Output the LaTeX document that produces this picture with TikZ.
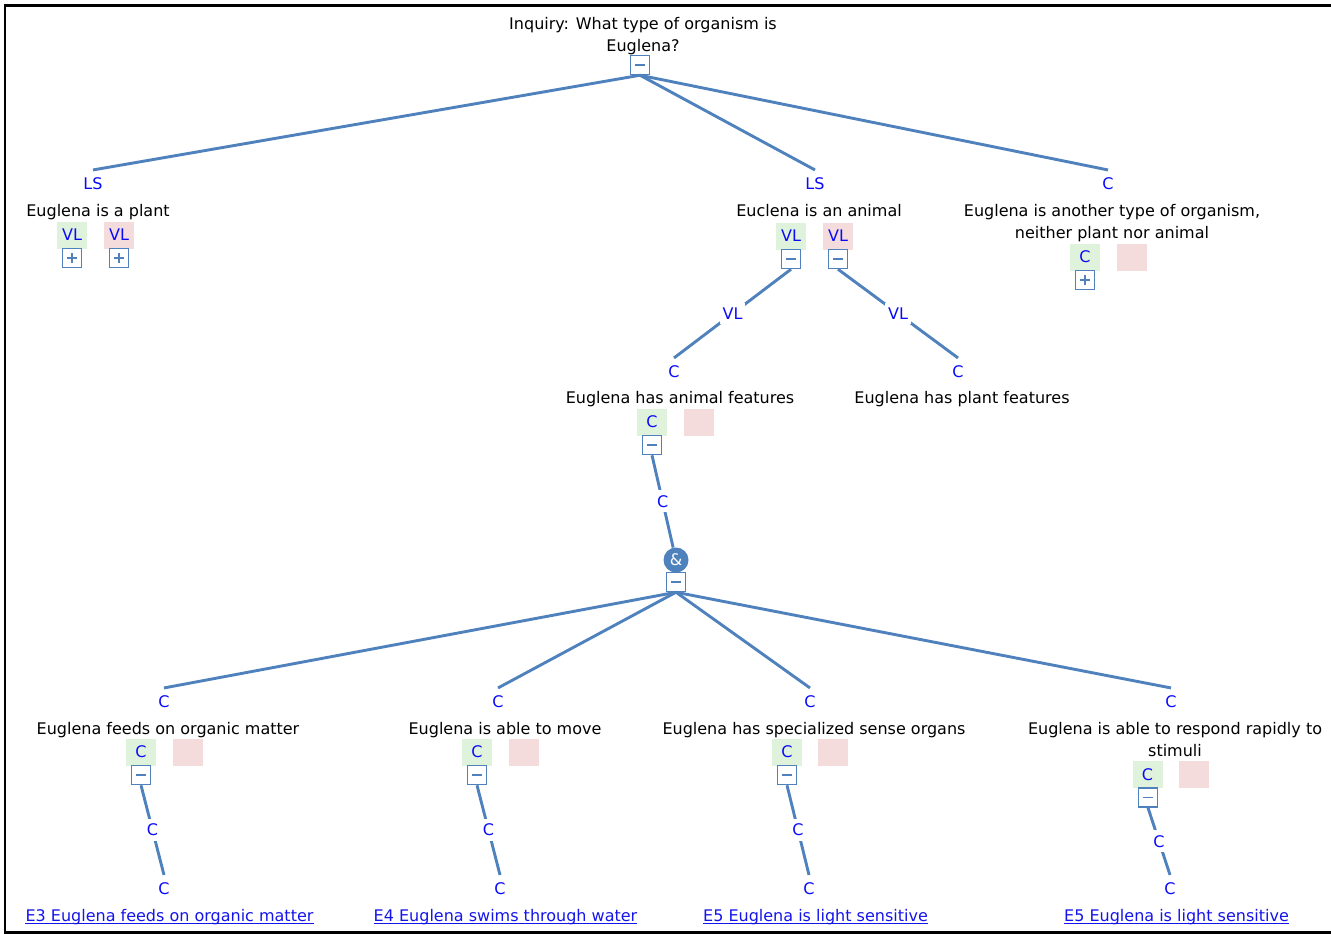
\documentclass[tikz,border=0pt]{standalone}
\usepackage{fontspec}
\setmainfont{DejaVu Sans}
\usetikzlibrary{calc}
\definecolor{edgeblue}{RGB}{79,129,189}
\definecolor{lblblue}{RGB}{10,10,250}
\definecolor{vlgreen}{RGB}{223,243,220}
\definecolor{vlpink}{RGB}{245,220,220}
\definecolor{linkblue}{RGB}{20,20,235}
\begin{document}
\begin{tikzpicture}[x=1pt,y=-1pt,
 every node/.style={font=\fontsize{16}{22}\selectfont},
 txt/.style={anchor=base, inner sep=0, align=center, text=black},
 lbl/.style={text=lblblue, inner sep=2, fill=white, outer ysep=6},
 midlbl/.style={text=lblblue, fill=white, inner xsep=3, inner ysep=5},
 edge/.style={draw=edgeblue, line width=2.9},
 greenbox/.style={fill=vlgreen, minimum width=30, minimum height=27, inner sep=0, text=lblblue},
 pinkbox/.style={fill=vlpink, minimum width=30, minimum height=27, inner sep=0, text=lblblue},
 ctl/.style={draw=edgeblue, fill=white, line width=1.5, minimum size=19, inner sep=0},
 ctlminus/.style={ctl, path picture={\draw[edgeblue, line width=1.4] ($(path picture bounding box.center)+(-5,0)$) -- ($(path picture bounding box.center)+(5,0)$);}},
 ctlplus/.style={ctl, path picture={\draw[edgeblue, line width=1.4] ($(path picture bounding box.center)+(-5,0)$) -- ($(path picture bounding box.center)+(5,0)$) ($(path picture bounding box.center)+(0,-5)$) -- ($(path picture bounding box.center)+(0,5)$);}},
 andnode/.style={circle, fill=edgeblue, text=white, minimum size=25, inner sep=0},
 linktxt/.style={anchor=base, inner sep=0, text=linkblue},
 uline/.style={draw=linkblue, line width=1.2},
]
\useasboundingbox (0,0) rectangle (1331,934);
\draw[black, line width=2.4] (4.7,5.5) rectangle (1334,932.3);

% top
\node[txt, anchor=north] (q) at (643,17) {Inquiry: What type of organism is\\Euglena?};
\node[ctlminus] (m0) at (640,65) {};

% level 1
\node[lbl] (ls1) at (93,184) {LS};
\node[txt] (t1) at (98,216) {Euglena is a plant};
\node[greenbox] (g1) at (72,235) {VL};
\node[pinkbox] (p1) at (119,235) {VL};
\node[ctlplus] (b1a) at (72,258) {};
\node[ctlplus] (b1b) at (119,258) {};

\node[lbl] (ls2) at (815,184) {LS};
\node[txt] (t2) at (819,216) {Euclena is an animal};
\node[greenbox] (g2) at (791,236) {VL};
\node[pinkbox] (p2) at (838,236) {VL};
\node[ctlminus] (b2a) at (791,259) {};
\node[ctlminus] (b2b) at (838,259) {};

\node[lbl] (c3) at (1108,184) {C};
\node[txt, anchor=north] (t3) at (1112,204) {Euglena is another type of organism,\\neither plant nor animal};
\node[greenbox] (g3) at (1085,257) {C};
\node[pinkbox] (p3) at (1132,257) {};
\node[ctlplus] (b3) at (1085,280) {};

% level 2
\node[lbl] (c4) at (674,372) {C};
\node[txt] (t4) at (680,403) {Euglena has animal features};
\node[greenbox] (g4) at (652,422) {C};
\node[pinkbox] (p4) at (699,422) {};
\node[ctlminus] (b4) at (652,445) {};

\node[lbl] (c5) at (958,372) {C};
\node[txt] (t5) at (962,403) {Euglena has plant features};

\node[andnode] (and) at (676,560) {\&};
\node[ctlminus] (b6) at (676,582) {};

% children
\node[lbl] (k1c) at (164,702) {C};
\node[txt] (k1t) at (168,734) {Euglena feeds on organic matter};
\node[greenbox] (k1g) at (141,752) {C};
\node[pinkbox] (k1p) at (188,752) {};
\node[ctlminus] (k1m) at (141,775) {};
\node[lbl] (k1b) at (164,889) {C};
\node[linktxt] (k1l) at (169.5,921) {E3 Euglena feeds on organic matter};

\node[lbl] (k2c) at (498,702) {C};
\node[txt] (k2t) at (505,734) {Euglena is able to move};
\node[greenbox] (k2g) at (477,752) {C};
\node[pinkbox] (k2p) at (524,752) {};
\node[ctlminus] (k2m) at (477,775) {};
\node[lbl] (k2b) at (500,889) {C};
\node[linktxt] (k2l) at (505.5,921) {E4 Euglena swims through water};

\node[lbl] (k3c) at (810,702) {C};
\node[txt] (k3t) at (814,734) {Euglena has specialized sense organs};
\node[greenbox] (k3g) at (787,752) {C};
\node[pinkbox] (k3p) at (833,752) {};
\node[ctlminus] (k3m) at (787,775) {};
\node[lbl] (k3b) at (809,889) {C};
\node[linktxt] (k3l) at (815.5,921) {E5 Euglena is light sensitive};

\node[lbl] (k4c) at (1171,702) {C};
\node[txt, anchor=north] (k4t) at (1175,722) {Euglena is able to respond rapidly to\\stimuli};
\node[greenbox] (k4g) at (1147.5,774.5) {C};
\node[pinkbox] (k4p) at (1194,774.5) {};
\node[ctlminus] (k4m) at (1148,797.5) {};
\node[lbl] (k4b) at (1170,889) {C};
\node[linktxt] (k4l) at (1176.5,921) {E5 Euglena is light sensitive};

% underlines
\foreach \l in {k1l,k2l,k3l,k4l}
  \draw[uline] ($(\l.base west)+(0,2.5)$) -- ($(\l.base east)+(0,2.5)$);

% edges
\draw[edge] (m0.south) -- (ls1.north);
\draw[edge] (m0.south) -- (ls2.north);
\draw[edge] (m0.south) -- (c3.north);
\draw[edge] (b2a.south) -- node[midlbl]{VL} (c4.north);
\draw[edge] (b2b.south) -- node[midlbl]{VL} (c5.north);
\draw[edge] (b4.south) -- node[midlbl]{C} (and);
\draw[edge] (b6.south) -- (k1c.north);
\draw[edge] (b6.south) -- (k2c.north);
\draw[edge] (b6.south) -- (k3c.north);
\draw[edge] (b6.south) -- (k4c.north);
\draw[edge] (k1m.south) -- node[midlbl]{C} (k1b.north);
\draw[edge] (k2m.south) -- node[midlbl]{C} (k2b.north);
\draw[edge] (k3m.south) -- node[midlbl]{C} (k3b.north);
\draw[edge] (k4m.south) -- node[midlbl]{C} (k4b.north);
\end{tikzpicture}
\end{document}
